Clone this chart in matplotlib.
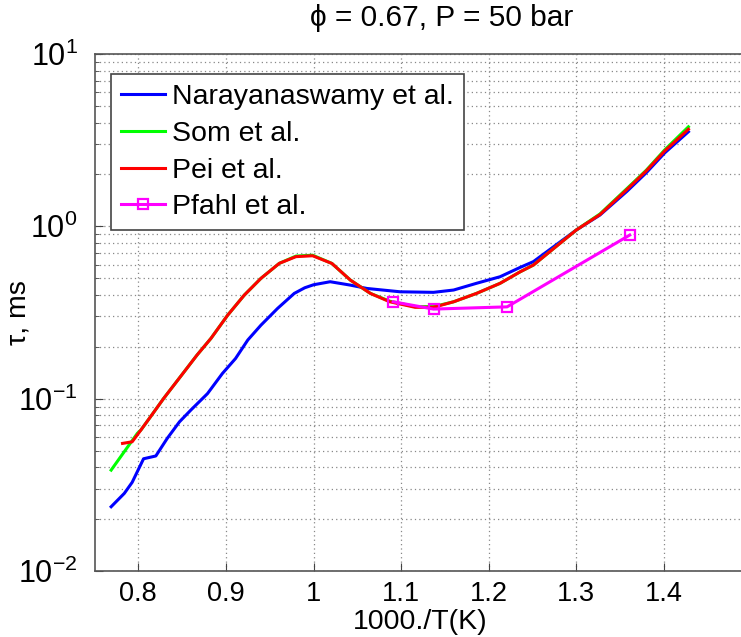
import numpy as np
import matplotlib
matplotlib.use("Agg")
import matplotlib.pyplot as plt
from matplotlib.ticker import LogLocator, FixedLocator, NullFormatter

plt.rcParams['font.family'] = ['Liberation Sans', 'DejaVu Sans']
plt.rcParams['mathtext.fontset'] = 'custom'
plt.rcParams['mathtext.rm'] = 'Liberation Sans'
plt.rcParams['mathtext.it'] = 'Liberation Sans:italic'

# Narayanaswamy et al.
nar_x = [0.769, 0.784, 0.793, 0.806, 0.820, 0.833, 0.847, 0.860, 0.879, 0.896, 0.911,
         0.925, 0.940, 0.959, 0.978, 0.990, 1.000, 1.019, 1.042, 1.061, 1.099, 1.137,
         1.160, 1.186, 1.213, 1.236, 1.251, 1.300, 1.327, 1.358, 1.380, 1.401, 1.428]
nar_y = [0.0236, 0.0282, 0.0327, 0.0448, 0.0465, 0.0588, 0.0734, 0.0859, 0.107, 0.140, 0.171,
         0.219, 0.267, 0.334, 0.408, 0.440, 0.458, 0.477, 0.456, 0.436, 0.417, 0.414,
         0.427, 0.467, 0.510, 0.578, 0.624, 0.952, 1.163, 1.60, 2.05, 2.67, 3.54]

# Som et al.
som_x = [0.769, 0.788, 0.799, 0.803, 0.814, 0.829, 0.848, 0.867, 0.883, 0.902, 0.921,
         0.940, 0.961, 0.980, 0.999, 1.021, 1.042, 1.065, 1.087, 1.116, 1.137, 1.160,
         1.186, 1.213, 1.236, 1.251, 1.300, 1.327, 1.358, 1.380, 1.401, 1.428]
som_y = [0.0385, 0.0526, 0.063, 0.0658, 0.0786, 0.1004, 0.134, 0.179, 0.224, 0.305, 0.399,
         0.499, 0.610, 0.672, 0.680, 0.609, 0.488, 0.408, 0.368, 0.342, 0.342, 0.365,
         0.408, 0.467, 0.545, 0.596, 0.952, 1.18, 1.66, 2.12, 2.78, 3.78]

# Pei et al.
pei_x = [0.782, 0.793, 0.803, 0.814, 0.829, 0.848, 0.867, 0.883, 0.902, 0.921,
         0.940, 0.961, 0.980, 0.999, 1.021, 1.042, 1.065, 1.087, 1.116, 1.137, 1.160,
         1.186, 1.213, 1.236, 1.251, 1.300, 1.327, 1.358, 1.380, 1.401, 1.428]
pei_y = [0.055, 0.0562, 0.0658, 0.0786, 0.1004, 0.134, 0.179, 0.224, 0.305, 0.399,
         0.499, 0.610, 0.667, 0.675, 0.609, 0.488, 0.408, 0.365, 0.339, 0.339, 0.365,
         0.408, 0.467, 0.545, 0.596, 0.952, 1.17, 1.64, 2.10, 2.74, 3.66]

# Pfahl et al.
pfa_x = [1.091, 1.137, 1.221, 1.361]
pfa_y = [0.365, 0.331, 0.341, 0.890]

fig = plt.figure(figsize=(7.41, 6.37), dpi=100)
ax = fig.add_axes([94.5 / 741, 1 - 571 / 637, 657 / 741, 517 / 637])

ax.plot(nar_x, nar_y, color=(0, 0, 1), lw=2.2, label='Narayanaswamy et al.', zorder=3)
ax.plot(som_x, som_y, color=(0, 1, 0), lw=2.2, label='Som et al.', zorder=3)
ax.plot(pei_x, pei_y, color=(1, 0, 0), lw=2.2, label='Pei et al.', zorder=3)
ax.plot(pfa_x, pfa_y, color=(1, 0, 1), lw=2.2, marker='s', markersize=7,
        markerfacecolor='none', markeredgewidth=1.6, label='Pfahl et al.', zorder=3)

ax.set_yscale('log')
ax.set_ylim(1e-2, 1e1)
ax.set_xlim(0.75, 1.5)
ax.xaxis.set_major_locator(FixedLocator([0.8, 0.9, 1.0, 1.1, 1.2, 1.3, 1.4]))
ax.set_xticklabels(['0.8', '0.9', '1', '1.1', '1.2', '1.3', '1.4'])
ax.yaxis.set_major_locator(LogLocator(base=10, numticks=10))
ax.yaxis.set_minor_locator(LogLocator(base=10, subs=np.arange(2, 10), numticks=20))
ax.yaxis.set_minor_formatter(NullFormatter())

ax.tick_params(axis='both', which='both', direction='in', color='#444444')
ax.tick_params(axis='x', which='major', length=6, pad=7, labelsize=19.5)
ax.tick_params(axis='y', which='major', length=6, pad=12, labelsize=22)
ax.tick_params(axis='y', which='minor', length=3)

ax.grid(True, axis='x', which='major', linestyle=(0, (1, 2.5)), color='#888888', lw=0.9)
ax.grid(True, axis='y', which='both', linestyle=(0, (1, 2.5)), color='#888888', lw=0.9)
ax.set_axisbelow(True)
for s in ax.spines.values():
    s.set_color('#555555')
    s.set_linewidth(1.2)

ax.set_xlabel('1000./T(K)', fontsize=20.5)
ax.xaxis.set_label_coords(0.495, (571 - 609) / 517)
ax.set_ylabel('τ, ms', fontsize=20.5)
ax.yaxis.set_label_coords((31 - 94.5) / 657, 0.5)
fig.text(442 / 741, 1 - 18 / 637, 'ϕ = 0.67, P = 50 bar', fontsize=21.5, ha='center', va='center')

leg = ax.legend(loc='upper left', bbox_to_anchor=(16.5 / 657, (571 - 74) / 517),
                borderaxespad=0, fontsize=20.5, handlelength=1.55, handletextpad=0.25,
                labelspacing=0.38, borderpad=0.35, fancybox=False, framealpha=1,
                edgecolor='#444444')
leg.get_frame().set_linewidth(1.2)

fig.savefig('out.png', dpi=100)
